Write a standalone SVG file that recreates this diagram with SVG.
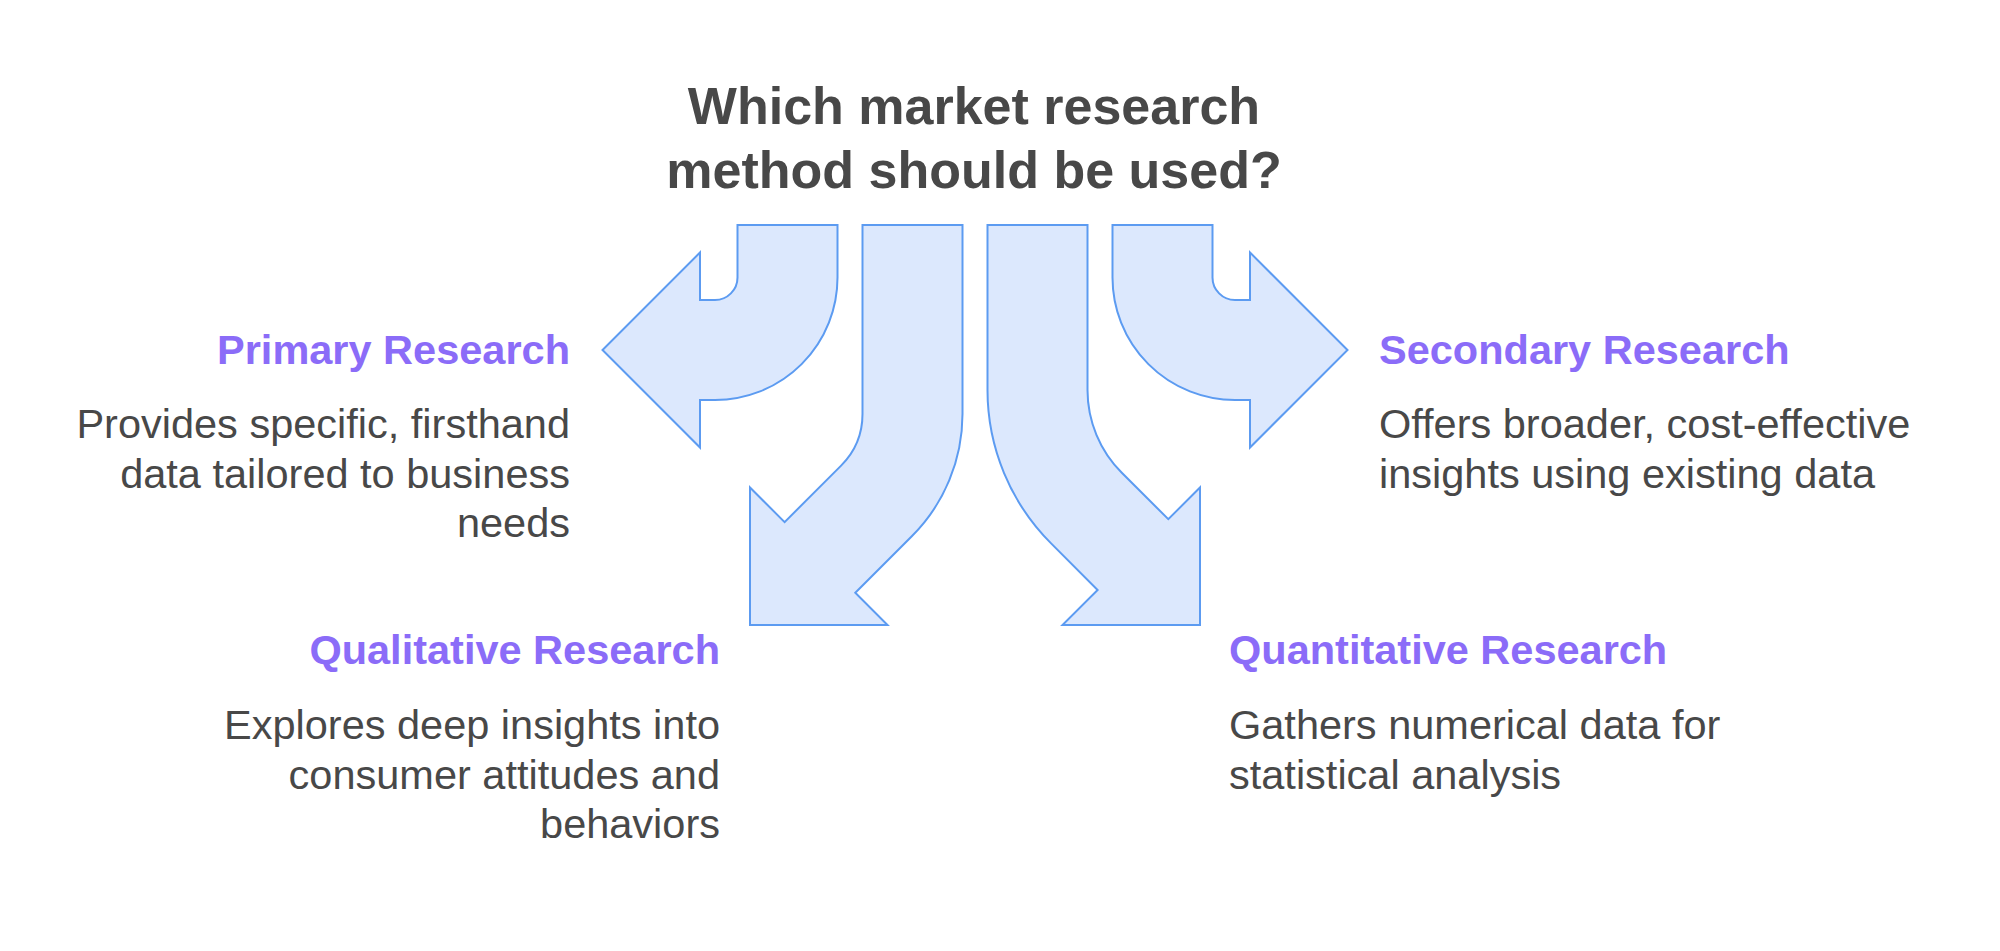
<svg xmlns="http://www.w3.org/2000/svg" width="2000" height="951" viewBox="0 0 2000 951">
<style>
.arrow{fill:#dce8fd;stroke:#5c9bf1;stroke-width:2;stroke-linejoin:miter}
.title{font-family:"Liberation Sans",Arial,sans-serif;font-weight:bold;font-size:52px;fill:#484848}
.head{font-family:"Liberation Sans",Arial,sans-serif;font-weight:bold;font-size:41.5px;fill:#8b6cf8}
.body{font-family:"Liberation Sans",Arial,sans-serif;font-size:41.5px;fill:#484848}
</style>
<rect width="2000" height="951" fill="#ffffff"/>
<g id="title">
<text class="title" x="974" y="124" text-anchor="middle">Which market research</text>
<text class="title" x="974" y="188" text-anchor="middle">method should be used?</text>
</g>
<g id="connectors">
<path id="arrow-primary" class="arrow" d="M737.5,225 L837.5,225 L837.5,277.5 A122.5,122.5 0 0 1 715,400 L700,400 L700,447.5 L602.5,350 L700,252.5 L700,300 L715,300 A22.5,22.5 0 0 0 737.5,277.5 Z"/>
<path id="arrow-qualitative" class="arrow" d="M862.5,225 L962.5,225 L962.5,414 A173,173 0 0 1 911.8,536.3 L855.3,592.8 L887.5,625 L750,625 L750,487.5 L784.6,522.1 L841.1,465.6 A73,73 0 0 0 862.5,414 Z"/>
<path id="arrow-quantitative" class="arrow" d="M1087.5,225 L987.5,225 L987.5,390 A217,217 0 0 0 1051.1,543.4 L1097.6,590 L1062.5,625 L1200,625 L1200,487.5 L1168.3,519.2 L1121.8,472.7 A117,117 0 0 1 1087.5,390 Z"/>
<path id="arrow-secondary" class="arrow" d="M1212.5,225 L1112.5,225 L1112.5,277.5 A122.5,122.5 0 0 0 1235,400 L1250,400 L1250,447.5 L1347.5,350 L1250,252.5 L1250,300 L1235,300 A22.5,22.5 0 0 1 1212.5,277.5 Z"/>
</g>
<g id="primary">
<text class="head" x="570" y="364" text-anchor="end">Primary Research</text>
<text class="body" x="570" y="438" text-anchor="end">Provides specific, firsthand</text>
<text class="body" x="570" y="487.5" text-anchor="end">data tailored to business</text>
<text class="body" x="570" y="537" text-anchor="end">needs</text>
</g>
<g id="secondary">
<text class="head" x="1379" y="364">Secondary Research</text>
<text class="body" x="1379" y="438">Offers broader, cost-effective</text>
<text class="body" x="1379" y="487.5">insights using existing data</text>
</g>
<g id="qualitative">
<text class="head" x="720" y="664" text-anchor="end">Qualitative Research</text>
<text class="body" x="720" y="739" text-anchor="end">Explores deep insights into</text>
<text class="body" x="720" y="788.5" text-anchor="end">consumer attitudes and</text>
<text class="body" x="720" y="838" text-anchor="end">behaviors</text>
</g>
<g id="quantitative">
<text class="head" x="1229" y="664">Quantitative Research</text>
<text class="body" x="1229" y="739">Gathers numerical data for</text>
<text class="body" x="1229" y="788.5">statistical analysis</text>
</g>
</svg>
